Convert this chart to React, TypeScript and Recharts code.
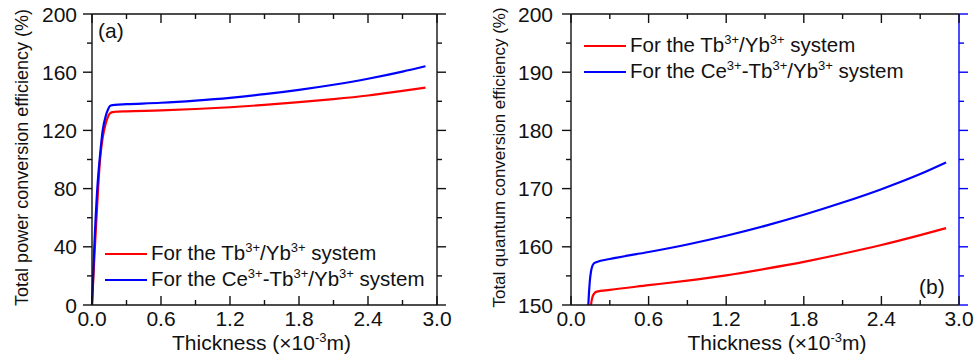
import { LineChart, Line, XAxis, YAxis, Legend } from "recharts";

// thickness in units of 1e-3 m
const thicknessPower = [0, 0.02, 0.046, 0.07, 0.093, 0.12, 0.14, 0.157, 0.18, 0.2, 0.3, 0.6, 0.9, 1.2, 1.5, 1.8, 2.1, 2.4, 2.7, 2.9];
const tbYbPower = [0, 32, 70, 100, 115, 125, 129.5, 131.8, 132.6, 132.8, 133.1, 133.7, 134.7, 135.9, 137.5, 139.4, 141.5, 144, 147.2, 149.4];
const ceTbYbPower = [0, 40, 80, 103, 120, 130, 134.5, 136.8, 137.4, 137.6, 138, 139, 140.5, 142.4, 144.9, 147.9, 151.4, 155.5, 160.4, 164.1];

const thicknessQuantum = [0.1, 0.12, 0.134, 0.145, 0.155, 0.165, 0.18, 0.2, 0.3, 0.6, 0.9, 1.2, 1.5, 1.8, 2.1, 2.4, 2.7, 2.9];
const tbYbQuantum = [120, 130, 138, 145, 150, 151.3, 152, 152.3, 152.6, 153.4, 154.2, 155.1, 156.2, 157.4, 158.8, 160.3, 162, 163.2];
const ceTbYbQuantum = [130, 140, 150, 154, 155.8, 156.7, 157.2, 157.4, 157.9, 159.1, 160.4, 161.9, 163.6, 165.5, 167.6, 169.9, 172.5, 174.5];

const xMajorTicks = [0, 0.6, 1.2, 1.8, 2.4, 3.0];
const xMinorTicks = [0.3, 0.9, 1.5, 2.1, 2.7];
const powerMajorTicks = [0, 40, 80, 120, 160, 200];
const powerMinorTicks = [20, 60, 100, 140, 180];
const quantumMajorTicks = [150, 160, 170, 180, 190, 200];
const quantumMinorTicks = [155, 165, 175, 185, 195];

const RED = "#ff0000";
const BLUE = "#0000ff";
const FONT = "'Liberation Sans', Arial, Helvetica, sans-serif";

const allTicks = (major: number[], minor: number[]) => [...major, ...minor].sort((a, b) => a - b);
const isMajor = (majors: number[], v: number) => majors.some((m) => Math.abs(m - v) < 1e-6);

type Side = "left" | "right" | "top" | "bottom";

function makeTick(side: Side, majors: number[], color: string, opts: { label?: boolean; gap?: number; digits?: number } = {}) {
  return (props: any) => {
    const { x, y, payload } = props;
    const v = payload.value as number;
    const major = isMajor(majors, v);
    const len = major ? 9 : 5;
    let line;
    if (side === "left") line = <line x1={x} y1={y} x2={x - len} y2={y} />;
    else if (side === "right") line = <line x1={x} y1={y} x2={x + len} y2={y} />;
    else if (side === "top") line = <line x1={x} y1={y} x2={x} y2={y + len} />;
    else line = <line x1={x} y1={y} x2={x} y2={y - len} />;
    const text = v.toFixed(opts.digits ?? 0);
    return (
      <g stroke={color} strokeWidth={1.4}>
        {line}
        {opts.label && major && side === "left" && (
          <text x={x - (opts.gap ?? 15)} y={y} dy="0.36em" textAnchor="end" fill="#111" stroke="none" fontSize={21} fontFamily={FONT}>
            {text}
          </text>
        )}
        {opts.label && major && side === "bottom" && (
          <text x={x} y={y + 21} textAnchor="middle" fill="#111" stroke="none" fontSize={21} fontFamily={FONT}>
            {text}
          </text>
        )}
      </g>
    );
  };
}

function LegendBox() {
  const row = (color: string, label: React.ReactNode) => (
    <div style={{ display: "flex", alignItems: "center", height: 26, whiteSpace: "nowrap" }}>
      <svg width={42} height={4} style={{ marginRight: 4 }}>
        <line x1={0} y1={2} x2={42} y2={2} stroke={color} strokeWidth={2.2} />
      </svg>
      <span>{label}</span>
    </div>
  );
  const sup = (s: string) => <sup style={{ fontSize: 13, verticalAlign: 0, position: "relative", top: -8 }}>{s}</sup>;
  return (
    <div style={{ fontFamily: FONT, fontSize: 20.5, color: "#111", lineHeight: "26px" }}>
      {row(RED, <>For the Tb{sup("3+")}/Yb{sup("3+")} system</>)}
      {row(BLUE, <>For the Ce{sup("3+")}-Tb{sup("3+")}/Yb{sup("3+")} system</>)}
    </div>
  );
}

function XTitle(props: any) {
  const { viewBox, shift } = props;
  const cx = viewBox.x + viewBox.width / 2 + (shift ?? 0);
  return (
    <text x={cx} y={viewBox.y + 45} textAnchor="middle" fontSize={21} fontFamily={FONT} fill="#111">
      Thickness (×10<tspan dy={-8} fontSize={13}>-3</tspan>
      <tspan dy={8}>m)</tspan>
    </text>
  );
}

function YTitle(props: any) {
  const { viewBox, x, text, size } = props;
  const cy = viewBox.y + viewBox.height / 2 - 2;
  return (
    <text x={x} y={cy} transform={`rotate(-90 ${x} ${cy})`} dy="0.36em" textAnchor="middle" fontSize={size} fontFamily={FONT} fill="#111">
      {text}
    </text>
  );
}

interface PanelProps {
  width: number;
  xs: number[];
  red: number[];
  blue: number[];
  yDomain: [number, number];
  yMajor: number[];
  yMinor: number[];
  leftWidth: number;
  rightMargin: number;
  rightColor: string;
  labelGap: number;
  yTitle: string;
  yTitleX: number;
  yTitleSize: number;
  xTitleShift: number;
  legendPos: { left: number; top: number };
  tag: string;
  tagPos: { x: number; y: number };
}

function Panel(p: PanelProps) {
  const data = p.xs.map((x, i) => ({ x, red: p.red[i], blue: p.blue[i] }));
  const xTicks = allTicks(xMajorTicks, xMinorTicks);
  const yTicks = allTicks(p.yMajor, p.yMinor);
  return (
    <LineChart width={p.width} height={362} data={data} margin={{ top: 13, right: p.rightMargin, left: 0, bottom: 16 }}>
      <XAxis
        xAxisId="b"
        dataKey="x"
        type="number"
        domain={[0, 3]}
        ticks={xTicks}
        interval={0}
        tickSize={0}
        tickMargin={0}
        height={41}
        stroke="#111"
        strokeWidth={1.4}
        tickLine={false}
        tick={makeTick("bottom", xMajorTicks, "#111", { label: true, digits: 1 })}
        label={(lp: any) => <XTitle {...lp} shift={p.xTitleShift} />}
      />
      <XAxis
        xAxisId="t"
        orientation="top"
        dataKey="x"
        type="number"
        domain={[0, 3]}
        ticks={xTicks}
        interval={0}
        tickSize={0}
        tickMargin={0}
        height={1}
        stroke="#111"
        strokeWidth={1.4}
        tickLine={false}
        tick={makeTick("top", xMajorTicks, "#111")}
      />
      <YAxis
        yAxisId="l"
        type="number"
        domain={p.yDomain}
        allowDataOverflow
        ticks={yTicks}
        interval={0}
        tickSize={0}
        tickMargin={0}
        width={p.leftWidth}
        stroke="#111"
        strokeWidth={1.4}
        tickLine={false}
        tick={makeTick("left", p.yMajor, "#111", { label: true, gap: p.labelGap })}
        label={(lp: any) => <YTitle {...lp} x={p.yTitleX} text={p.yTitle} size={p.yTitleSize} />}
      />
      <YAxis
        yAxisId="r"
        orientation="right"
        type="number"
        domain={p.yDomain}
        allowDataOverflow
        ticks={yTicks}
        interval={0}
        tickSize={0}
        tickMargin={0}
        width={10}
        stroke={p.rightColor}
        strokeWidth={1.4}
        tickLine={false}
        tick={makeTick("right", p.yMajor, p.rightColor)}
      />
      <Legend
        layout="vertical"
        align="center"
        verticalAlign="middle"
        wrapperStyle={{ left: p.legendPos.left, top: p.legendPos.top, width: "auto" }}
        content={() => <LegendBox />}
      />
      <Line xAxisId="b" yAxisId="l" type="monotone" dataKey="red" stroke={RED} strokeWidth={2.2} dot={false} isAnimationActive={false} />
      <Line xAxisId="b" yAxisId="l" type="monotone" dataKey="blue" stroke={BLUE} strokeWidth={2.2} dot={false} isAnimationActive={false} />
      <text x={p.tagPos.x} y={p.tagPos.y} fontSize={21} fontFamily={FONT} fill="#111">
        {p.tag}
      </text>
    </LineChart>
  );
}

export default function App() {
  return (
    <div style={{ position: "absolute", left: 0, top: 0, width: 979, height: 362, background: "#fff" }}>
      <div style={{ position: "absolute", left: 0, top: 0 }}>
        <Panel
          width={490}
          xs={thicknessPower}
          red={tbYbPower}
          blue={ceTbYbPower}
          yDomain={[0, 200]}
          yMajor={powerMajorTicks}
          yMinor={powerMinorTicks}
          leftWidth={92}
          rightMargin={43}
          rightColor="#111"
          labelGap={15}
          yTitle="Total power conversion efficiency (%)"
          yTitleX={22}
          yTitleSize={18}
          xTitleShift={-3}
          legendPos={{ left: 105, top: 241 }}
          tag="(a)"
          tagPos={{ x: 98, y: 38 }}
        />
      </div>
      <div style={{ position: "absolute", left: 490, top: 0 }}>
        <Panel
          width={489}
          xs={thicknessQuantum}
          red={tbYbQuantum}
          blue={ceTbYbQuantum}
          yDomain={[150, 200]}
          yMajor={quantumMajorTicks}
          yMinor={quantumMinorTicks}
          leftWidth={81}
          rightMargin={10}
          rightColor={BLUE}
          labelGap={18}
          yTitle="Total quantum conversion efficiency (%)"
          yTitleX={9}
          yTitleSize={17}
          xTitleShift={12}
          legendPos={{ left: 94, top: 33 }}
          tag="(b)"
          tagPos={{ x: 429, y: 294 }}
        />
      </div>
    </div>
  );
}
